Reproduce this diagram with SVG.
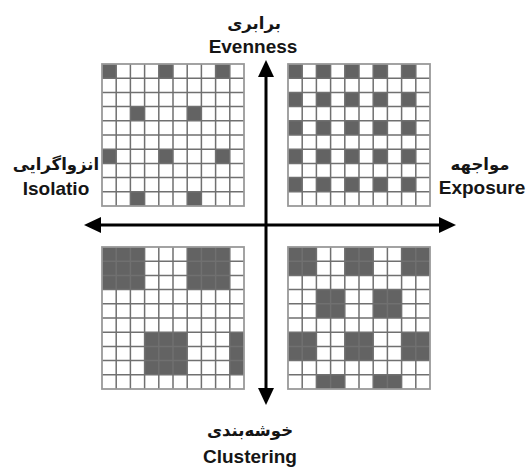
<svg xmlns="http://www.w3.org/2000/svg" xmlns:xlink="http://www.w3.org/1999/xlink" width="530" height="467" viewBox="0 0 530 467">
<style>
.bg{fill:#ffffff}
.d{fill:#636363}
.lines{fill:none;stroke:#707070;stroke-width:1.5}
.frame{fill:none;stroke:#999999;stroke-width:1.8}
.fa{font-family:"Liberation Sans","DejaVu Sans",sans-serif;font-weight:bold;font-size:16.5px;fill:#151515;text-anchor:middle}
.en{font-family:"Liberation Sans","DejaVu Sans",sans-serif;font-weight:bold;font-size:19px;fill:#151515;text-anchor:middle}
.shaft{stroke:#000;stroke-width:3;fill:none}
.head{fill:#000}
</style>
<defs>
<g id="gridlines">
<path class="lines" d="M14.2 0V142M28.4 0V142M42.6 0V142M56.8 0V142M71 0V142M85.2 0V142M99.4 0V142M113.6 0V142M127.8 0V142M0 14.2H142M0 28.4H142M0 42.6H142M0 56.8H142M0 71H142M0 85.2H142M0 99.4H142M0 113.6H142M0 127.8H142"/>
<rect class="frame" x="0" y="0" width="142" height="142"/>
</g>
</defs>
<rect class="bg" x="0" y="0" width="530" height="467"/>

<g id="grid-isolation" transform="translate(102,64)">
<rect class="bg" x="0" y="0" width="142" height="142"/>
<rect class="d" x="0" y="0" width="14.2" height="14.2"/>
<rect class="d" x="56.8" y="0" width="14.2" height="14.2"/>
<rect class="d" x="113.6" y="0" width="14.2" height="14.2"/>
<rect class="d" x="28.4" y="42.6" width="14.2" height="14.2"/>
<rect class="d" x="85.2" y="42.6" width="14.2" height="14.2"/>
<rect class="d" x="0" y="85.2" width="14.2" height="14.2"/>
<rect class="d" x="56.8" y="85.2" width="14.2" height="14.2"/>
<rect class="d" x="113.6" y="85.2" width="14.2" height="14.2"/>
<rect class="d" x="28.4" y="127.8" width="14.2" height="14.2"/>
<rect class="d" x="85.2" y="127.8" width="14.2" height="14.2"/>
<use xlink:href="#gridlines"/>
</g>

<g id="grid-exposure" transform="translate(288,64)">
<rect class="bg" x="0" y="0" width="142" height="142"/>
<g id="exp-row">
<rect class="d" x="0" y="0" width="14.2" height="14.2"/>
<rect class="d" x="28.4" y="0" width="14.2" height="14.2"/>
<rect class="d" x="56.8" y="0" width="14.2" height="14.2"/>
<rect class="d" x="85.2" y="0" width="14.2" height="14.2"/>
<rect class="d" x="113.6" y="0" width="14.2" height="14.2"/>
</g>
<use xlink:href="#exp-row" y="28.4"/>
<use xlink:href="#exp-row" y="56.8"/>
<use xlink:href="#exp-row" y="85.2"/>
<use xlink:href="#exp-row" y="113.6"/>
<use xlink:href="#gridlines"/>
</g>

<g id="grid-clustering" transform="translate(102,247)">
<rect class="bg" x="0" y="0" width="142" height="142"/>
<rect class="d" x="0" y="0" width="42.6" height="42.6"/>
<rect class="d" x="85.2" y="0" width="42.6" height="42.6"/>
<rect class="d" x="42.6" y="85.2" width="42.6" height="42.6"/>
<rect class="d" x="127.8" y="85.2" width="14.2" height="42.6"/>
<use xlink:href="#gridlines"/>
</g>

<g id="grid-evenness" transform="translate(288,247)">
<rect class="bg" x="0" y="0" width="142" height="142"/>
<rect class="d" x="0" y="0" width="28.4" height="28.4"/>
<rect class="d" x="56.8" y="0" width="28.4" height="28.4"/>
<rect class="d" x="113.6" y="0" width="28.4" height="28.4"/>
<rect class="d" x="28.4" y="42.6" width="28.4" height="28.4"/>
<rect class="d" x="85.2" y="42.6" width="28.4" height="28.4"/>
<rect class="d" x="0" y="85.2" width="28.4" height="28.4"/>
<rect class="d" x="56.8" y="85.2" width="28.4" height="28.4"/>
<rect class="d" x="113.6" y="85.2" width="28.4" height="28.4"/>
<rect class="d" x="28.4" y="127.8" width="28.4" height="14.2"/>
<rect class="d" x="85.2" y="127.8" width="28.4" height="14.2"/>
<use xlink:href="#gridlines"/>
</g>

<g id="connectors">
<path class="shaft" d="M266 74V392"/>
<polygon class="head" points="266,60 258,77 274,77"/>
<polygon class="head" points="266,405 258,388 274,388"/>
<path class="shaft" d="M98 225H442"/>
<polygon class="head" points="84,225 101,217 101,233"/>
<polygon class="head" points="456,225 439,217 439,233"/>
</g>

<g id="label-evenness">
<text class="fa" x="254" y="29">برابری</text>
<text class="en" x="253" y="53">Evenness</text>
</g>
<g id="label-isolation">
<text class="fa" x="56" y="170">انزواگرایی</text>
<text class="en" x="56" y="195">Isolatio</text>
</g>
<g id="label-exposure">
<text class="fa" x="480" y="170">مواجهه</text>
<text class="en" x="482" y="194">Exposure</text>
</g>
<g id="label-clustering">
<text class="fa" x="250" y="436">خوشه‌بندی</text>
<text class="en" x="250" y="463">Clustering</text>
</g>
</svg>
